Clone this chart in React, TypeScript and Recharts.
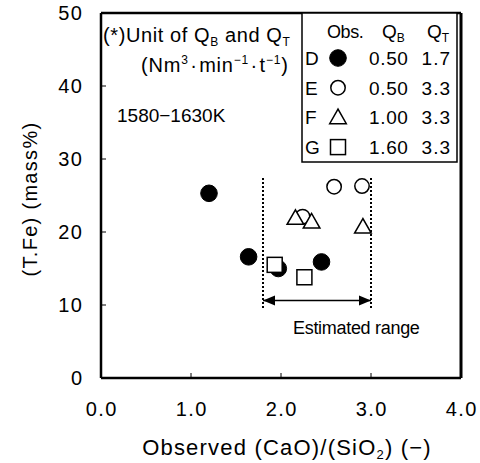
import React from "react";
import { ScatterChart, Scatter, XAxis, YAxis, ReferenceLine } from "recharts";

const xTicks = [0, 1, 2, 3, 4];
const yTicks = [0, 10, 20, 30, 40, 50];
const xTickLabels = ["0.0", "1.0", "2.0", "3.0", "4.0"];

const seriesD = [
  { x: 1.2, y: 25.3 },
  { x: 1.64, y: 16.6 },
  { x: 1.97, y: 15.0 },
  { x: 2.45, y: 15.9 },
];
const seriesE = [
  { x: 2.24, y: 22.1 },
  { x: 2.59, y: 26.2 },
  { x: 2.9, y: 26.3 },
];
const seriesF = [
  { x: 2.16, y: 21.9 },
  { x: 2.34, y: 21.4 },
  { x: 2.91, y: 20.7 },
];
const seriesG = [
  { x: 1.93, y: 15.5 },
  { x: 2.26, y: 13.8 },
];

const rangeLow = 1.8;
const rangeHigh = 3.0;
const rangeBottom = 9.6;
const rangeTop = 27.4;
const arrowY = 10.6;
const arrowHeads = [
  { x: rangeLow, y: arrowY, dir: -1 },
  { x: rangeHigh, y: arrowY, dir: 1 },
];

const legendRows = [
  { label: "D", qb: "0.50", qt: "1.7", kind: "D" },
  { label: "E", qb: "0.50", qt: "3.3", kind: "E" },
  { label: "F", qb: "1.00", qt: "3.3", kind: "F" },
  { label: "G", qb: "1.60", qt: "3.3", kind: "G" },
];

const FONT = "'Liberation Sans', Arial, sans-serif";

const drawMarker = (kind: string, cx: number, cy: number) => {
  if (kind === "D") return <circle cx={cx} cy={cy} r={8.3} fill="#000" stroke="#000" />;
  if (kind === "E") return <circle cx={cx} cy={cy} r={7.2} fill="#fff" stroke="#000" strokeWidth={1.5} />;
  if (kind === "F") {
    const s = 8.3;
    const pts = `${cx},${cy - s} ${cx - s},${cy + s * 0.75} ${cx + s},${cy + s * 0.75}`;
    return <polygon points={pts} fill="#fff" stroke="#000" strokeWidth={1.5} />;
  }
  return <rect x={cx - 7.5} y={cy - 7.5} width={15} height={15} fill="#fff" stroke="#000" strokeWidth={1.5} />;
};

const shapeFor = (kind: string) => (props: any) => {
  const { cx, cy } = props;
  if (cx == null || cy == null) return <g />;
  return drawMarker(kind, cx, cy);
};

const arrowShape = (props: any) => {
  const { cx, cy, payload } = props;
  const dir = payload && payload.dir ? payload.dir : 1;
  const len = 12;
  const hw = 5;
  const pts = `${cx},${cy} ${cx - dir * len},${cy - hw} ${cx - dir * len},${cy + hw}`;
  return <polygon points={pts} fill="#000" />;
};

const XTick = (props: any) => {
  const { x, y, payload } = props;
  const v = payload.value;
  const idx = xTicks.indexOf(v);
  return (
    <g>
      {v > 0 && v < 4 && <line x1={x} y1={y} x2={x} y2={y - 5} stroke="#000" strokeWidth={1} />}
      <text x={x + 0.8} y={y + 38} textAnchor="middle" fontSize={20} letterSpacing={1.5} fontFamily={FONT} fill="#000">
        {idx >= 0 ? xTickLabels[idx] : v}
      </text>
    </g>
  );
};

const YTick = (props: any) => {
  const { x, y, payload } = props;
  const v = payload.value;
  return (
    <g>
      {v > 0 && v < 50 && <line x1={x} y1={y} x2={x + 5} y2={y} stroke="#000" strokeWidth={1} />}
      <text x={x - 17.5} y={y + 7} textAnchor="end" fontSize={20} letterSpacing={1.5} fontFamily={FONT} fill="#000">
        {v}
      </text>
    </g>
  );
};

export default function App() {
  const sub = (t: string, fs = 12) => (
    <tspan fontSize={fs} dy={4}>{t}</tspan>
  );
  return (
    <div style={{ position: "absolute", left: 0, top: 0, width: 480, height: 463, background: "#fff" }}>
      <ScatterChart
        width={480}
        height={463}
        margin={{ top: 13, right: 19, bottom: 45, left: 41 }}
      >
        <XAxis
          type="number"
          dataKey="x"
          domain={[0, 4]}
          ticks={xTicks}
          tick={<XTick />}
          tickLine={false}
          tickSize={0}
          tickMargin={0}
          height={40}
          axisLine={{ stroke: "#000", strokeWidth: 2.5 }}
          interval={0}
          allowDataOverflow
        />
        <YAxis
          type="number"
          dataKey="y"
          domain={[0, 50]}
          ticks={yTicks}
          tick={<YTick />}
          tickLine={false}
          tickSize={0}
          tickMargin={0}
          width={60}
          axisLine={{ stroke: "#000", strokeWidth: 2.5 }}
          interval={0}
          allowDataOverflow
        />
        <ReferenceLine y={50} stroke="#000" strokeWidth={2.5} />
        <ReferenceLine x={4} stroke="#000" strokeWidth={3} />
        <ReferenceLine
          segment={[{ x: rangeLow, y: rangeBottom }, { x: rangeLow, y: rangeTop }]}
          stroke="#000"
          strokeWidth={2}
          strokeDasharray="2 2"
        />
        <ReferenceLine
          segment={[{ x: rangeHigh, y: rangeBottom }, { x: rangeHigh, y: rangeTop }]}
          stroke="#000"
          strokeWidth={2}
          strokeDasharray="2 2"
        />
        <ReferenceLine
          segment={[{ x: rangeLow, y: arrowY }, { x: rangeHigh, y: arrowY }]}
          stroke="#000"
          strokeWidth={1.5}
        />
        <Scatter data={arrowHeads} shape={arrowShape} isAnimationActive={false} />
        <Scatter data={seriesD} shape={shapeFor("D")} isAnimationActive={false} />
        <Scatter data={seriesE} shape={shapeFor("E")} isAnimationActive={false} />
        <Scatter data={seriesF} shape={shapeFor("F")} isAnimationActive={false} />
        <Scatter data={seriesG} shape={shapeFor("G")} isAnimationActive={false} />
      </ScatterChart>
      <svg
        width={480}
        height={463}
        style={{ position: "absolute", left: 0, top: 0, pointerEvents: "none" }}
        fontFamily={FONT}
      >
        <text x={30} y={199} transform="rotate(-90 30 199)" textAnchor="middle" dominantBaseline="central" fontSize={20} letterSpacing={1.3}>
          (T.Fe) (mass%)
        </text>
        <text x={287} y={455} textAnchor="middle" fontSize={22} letterSpacing={1.2}>
          Observed (CaO)/(SiO{sub("2", 13)}<tspan dy={-4}>) (−)</tspan>
        </text>
        <text x={103} y={42} fontSize={20} letterSpacing={0.6}>
          (*)Unit of Q{sub("B")}<tspan dy={-4}> and Q</tspan>{sub("T")}
        </text>
        <text x={141} y={72} fontSize={20} letterSpacing={0.8}>
          (Nm<tspan fontSize={12} dy={-8}>3</tspan>
          <tspan dy={8} dx={1.5}>·</tspan>
          <tspan dx={1.5}>min</tspan>
          <tspan fontSize={12} dy={-8}>−1</tspan>
          <tspan dy={8} dx={1.5}>·</tspan>
          <tspan dx={1.5}>t</tspan>
          <tspan fontSize={12} dy={-8}>−1</tspan>
          <tspan dy={8}>)</tspan>
        </text>
        <text x={117} y={122} fontSize={19}>1580−1630K</text>
        <text x={293} y={334} fontSize={18} letterSpacing={-0.3}>Estimated range</text>
        <rect x={302} y={13} width={155} height={149} fill="#fff" stroke="#000" strokeWidth={1.5} />
        <text x={327} y={38} fontSize={18} letterSpacing={-0.4}>Obs.</text>
        <text x={382} y={38} fontSize={19}>Q{sub("B")}</text>
        <text x={427} y={38} fontSize={19}>Q{sub("T")}</text>
        {legendRows.map((r, i) => {
          const cy = 58 + i * 29.7;
          return (
            <g key={r.label}>
              <text x={305} y={cy + 7} fontSize={19}>{r.label}</text>
              {drawMarker(r.kind, 338, cy)}
              <text x={408.5} y={cy + 7} fontSize={19} letterSpacing={0.6} textAnchor="end">{r.qb}</text>
              <text x={451} y={cy + 7} fontSize={19} letterSpacing={1} textAnchor="end">{r.qt}</text>
            </g>
          );
        })}
      </svg>
    </div>
  );
}
